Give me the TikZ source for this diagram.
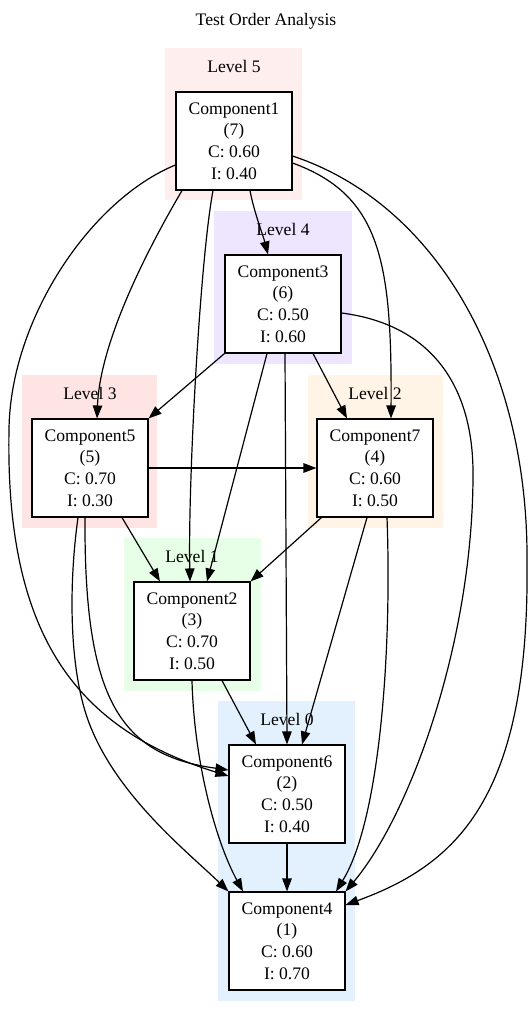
\documentclass[tikz,border=0pt]{standalone}
\usepackage{fontspec}
\setmainfont{Liberation Serif}
\usetikzlibrary{arrows.meta}

\definecolor{lvfive}{HTML}{FFEEEE}
\definecolor{lvfour}{HTML}{EEE6FF}
\definecolor{lvthree}{HTML}{FFE4E4}
\definecolor{lvtwo}{HTML}{FFF4E6}
\definecolor{lvone}{HTML}{E6FFE6}
\definecolor{lvzero}{HTML}{E3F0FD}

\tikzset{
  comp/.style={draw=black, fill=white, line width=1.1pt, minimum width=116pt,
    minimum height=98pt, inner sep=0pt, align=center,
    font=\fontsize{17.6}{21.8}\selectfont},
  lvlabel/.style={inner sep=0pt, font=\fontsize{17.6}{21.8}\selectfont},
  dep/.style={line width=1.2pt, -{Triangle[length=13pt,width=9.5pt]}},
}

\begin{document}
\begin{tikzpicture}[x=1pt, y=-1pt]
\useasboundingbox (0,0) rectangle (532,1017);

% title
\node[lvlabel] (title) at (266,21) {Test Order Analysis};

% level bands
\fill[lvfive]  (165,48)  rectangle (302,200);
\fill[lvfour]  (214,211) rectangle (352,364);
\fill[lvthree] (22,375)  rectangle (157,528);
\fill[lvtwo]   (308,375) rectangle (443,528);
\fill[lvone]   (124,538) rectangle (261,691);
\fill[lvzero]  (218,701) rectangle (355,1001);

\node[lvlabel] (l5) at (234,66)  {Level 5};
\node[lvlabel] (l4) at (283,229) {Level 4};
\node[lvlabel] (l3) at (90,393)  {Level 3};
\node[lvlabel] (l2) at (375,393) {Level 2};
\node[lvlabel] (l1) at (192,556) {Level 1};
\node[lvlabel] (l0) at (287,719) {Level 0};

% components
\node[comp] (c1) at (234,141) {Component1\\(7)\\C: 0.60\\I: 0.40};
\node[comp] (c3) at (283,304) {Component3\\(6)\\C: 0.50\\I: 0.60};
\node[comp] (c5) at (90,468)  {Component5\\(5)\\C: 0.70\\I: 0.30};
\node[comp] (c7) at (375,468) {Component7\\(4)\\C: 0.60\\I: 0.50};
\node[comp] (c2) at (192,631) {Component2\\(3)\\C: 0.70\\I: 0.50};
\node[comp] (c6) at (287,794) {Component6\\(2)\\C: 0.50\\I: 0.40};
\node[comp] (c4) at (287,941) {Component4\\(1)\\C: 0.60\\I: 0.70};

% dependencies of Component1
\draw[dep] ([xshift=16pt]c1.south) .. controls (254,212) and (263,235) .. ([xshift=-15pt]c3.north);
\draw[dep] ([xshift=-52pt]c1.south) .. controls (150,245) and (100,340) .. ([xshift=7pt]c5.north);
\draw[dep] ([xshift=-21pt]c1.south) .. controls (200,260) and (188,480) .. ([xshift=-2pt]c2.north);
\draw[dep] ([yshift=-24pt]c1.west) .. controls (90,200) and (10,320) .. (9,430)
  .. controls (5,640) and (80,730) .. ([yshift=18pt]c6.west);
\draw[dep] ([yshift=-22pt]c1.east) .. controls (380,195) and (392,260) .. ([xshift=16pt]c7.north);
\draw[dep] ([yshift=-15pt]c1.east) .. controls (440,205) and (528,370) .. (527,560)
  .. controls (530,800) and (455,865) .. ([yshift=36pt]c4.east);

% dependencies of Component3
\draw[dep] (c3.south west) -- (c5.north east);
\draw[dep] ([xshift=30pt]c3.south) -- ([xshift=-28pt]c7.north);
\draw[dep] ([xshift=-16pt]c3.south) -- ([xshift=15pt]c2.north);
\draw[dep] ([xshift=2pt]c3.south) -- (c6.north);
\draw[dep] ([yshift=-9pt]c3.east) .. controls (435,325) and (472,390) .. (473,470)
  .. controls (474,640) and (410,815) .. (c4.north east);

% dependencies of Component5
\draw[dep] (c5.east) -- (c7.west);
\draw[dep] ([xshift=32pt]c5.south) -- ([xshift=-32pt]c2.north);
\draw[dep] ([xshift=-5pt]c5.south) .. controls (84,700) and (120,755) .. ([yshift=24pt]c6.west);
\draw[dep] ([xshift=-12pt]c5.south) .. controls (68,590) and (70,670) .. (88,720)
  .. controls (115,795) and (189,853) .. (c4.north west);

% dependencies of Component7
\draw[dep] ([xshift=5pt]c7.south west) -- (c2.north east);
\draw[dep] ([xshift=-8pt]c7.south) -- ([xshift=15pt]c6.north);
\draw[dep] ([xshift=12pt]c7.south) .. controls (392,650) and (380,820) .. ([xshift=49pt]c4.north);

% dependencies of Component2
\draw[dep] ([xshift=30pt]c2.south) -- ([xshift=-31pt]c6.north);
\draw[dep] (c2.south) .. controls (194,760) and (215,840) .. ([xshift=-44pt]c4.north);

% dependency of Component6
\draw[dep] (c6.south) -- (c4.north);
\end{tikzpicture}
\end{document}
